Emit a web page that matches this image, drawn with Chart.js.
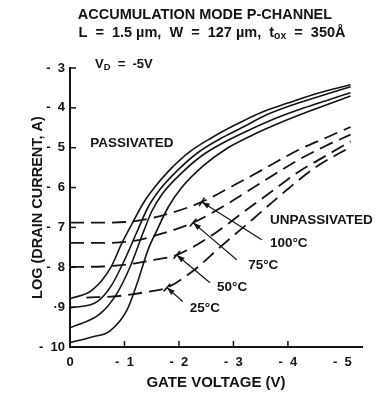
<!DOCTYPE html>
<html>
<head>
<meta charset="utf-8">
<script src="https://cdn.jsdelivr.net/npm/chart.js@4"></script>
<style>
  html, body { margin: 0; background: #fff; }
  #wrap { width: 384px; height: 396px; }
</style>
</head>
<body>
<div id="wrap"><canvas id="chart"></canvas></div>
<script>
/* ─── DATA ─────────────────────────────────────────────── */
const gateTicks = [0, -1, -2, -3, -4, -5]
const logTicks  = [-3, -4, -5, -6, -7, -8, -9, -10]

// passivated (solid), gate voltage V / log drain current
const pas100V = [0, -0.4, -0.75, -0.95, -1.15, -1.35, -1.55, -1.8, -2.2, -2.6, -3.0, -3.5, -4.0, -4.5, -5.15]
const pas100L = [-8.79, -8.58, -8.0, -7.4, -6.88, -6.38, -6.0, -5.6, -5.1, -4.75, -4.45, -4.12, -3.88, -3.65, -3.42]
const pas75V  = [0, -0.5, -0.75, -1.0, -1.22, -1.43, -1.65, -1.95, -2.35, -2.75, -3.15, -3.6, -4.1, -4.6, -5.15]
const pas75L  = [-9.02, -8.86, -8.48, -7.82, -7.14, -6.5, -6.05, -5.6, -5.12, -4.78, -4.5, -4.18, -3.92, -3.7, -3.47]
const pas50V  = [0, -0.55, -0.86, -1.1, -1.34, -1.5, -1.7, -2.0, -2.4, -2.85, -3.3, -3.8, -4.3, -4.7, -5.15]
const pas50L  = [-9.52, -9.17, -8.66, -8.0, -7.14, -6.6, -6.15, -5.7, -5.22, -4.85, -4.55, -4.25, -4.0, -3.82, -3.62]
const pas25V  = [0, -0.4, -0.73, -1.04, -1.25, -1.43, -1.6, -1.8, -2.05, -2.45, -2.9, -3.4, -3.9, -4.4, -5.15]
const pas25L  = [-9.89, -9.75, -9.6, -9.09, -8.33, -7.57, -7.06, -6.5, -6.0, -5.45, -5.0, -4.65, -4.35, -4.08, -3.7]

// unpassivated (dashed)
const unp100V = [0, -0.6, -1.2, -1.8, -2.42, -3.0, -3.6, -4.2, -4.7, -5.15]
const unp100L = [-6.88, -6.88, -6.84, -6.66, -6.36, -5.95, -5.5, -5.05, -4.75, -4.48]
const unp75V  = [0, -0.6, -1.2, -1.7, -2.26, -2.9, -3.6, -4.2, -4.7, -5.15]
const unp75L  = [-7.39, -7.39, -7.33, -7.15, -6.88, -6.4, -5.8, -5.3, -4.95, -4.67]
const unp50V  = [0, -0.6, -1.2, -1.6, -1.96, -2.6, -3.2, -3.7, -4.2, -4.7, -5.15]
const unp50L  = [-7.99, -7.98, -7.9, -7.8, -7.69, -7.2, -6.6, -6.1, -5.6, -5.2, -4.84]
const unp25V  = [-0.3, -0.9, -1.4, -1.78, -2.25, -2.75, -3.35, -3.9, -4.5, -5.15]
const unp25L  = [-8.76, -8.72, -8.62, -8.51, -8.1, -7.5, -6.8, -6.15, -5.5, -4.98]

const tempLabels = ['100°C', '75°C', '50°C', '25°C']

/* ─── LAYOUT / STYLE ───────────────────────────────────── */
const INK  = '#141414'
const FONT = '"Liberation Sans", Arial, sans-serif'

// label anchors, in axis units [V, log I]
const LABEL_AT    = [[-3.67, -7.39], [-3.27, -7.94], [-2.70, -8.49], [-2.20, -9.02]]
const LEADER_FROM = [[-3.52, -7.31], [-3.06, -7.81], [-2.57, -8.39], [-2.07, -8.86]]
const LEADER_TIP  = [[-2.42, -6.36], [-2.26, -6.88], [-1.96, -7.69], [-1.78, -8.51]]

const pts = (xs, ys) => xs.map((v, i) => ({ x: v, y: ys[i] }))

const solid  = (xs, ys) => ({ data: pts(xs, ys), borderColor: INK, borderWidth: 1.6, pointRadius: 0, cubicInterpolationMode: 'monotone' })
const dashed = (xs, ys) => ({ ...solid(xs, ys), borderWidth: 1.8, borderDash: [14, 7] })

/* ─── DECOR PLUGIN ─────────────────────────────────────── */
const line = (ctx, x1, y1, x2, y2) => { ctx.beginPath(); ctx.moveTo(x1, y1); ctx.lineTo(x2, y2); ctx.stroke() }

// text with subscript pieces: parts = [[text, isSub], ...]
const subText = (ctx, parts, x, y, align) => {
  const big = ctx.font
  const small = big.replace(/\d+(\.\d+)?px/, m => (parseFloat(m) * 0.72) + 'px')
  const widths = parts.map(([t, s]) => { ctx.font = s ? small : big; return ctx.measureText(t).width })
  let cx = align === 'center' ? x - widths.reduce((a, b) => a + b, 0) / 2 : x
  ctx.textAlign = 'left'
  parts.forEach(([t, s], i) => {
    ctx.font = s ? small : big
    ctx.fillText(t, cx, s ? y + 3 : y)
    cx += widths[i]
  })
  ctx.font = big
}

const decor = {
  id: 'decor',
  afterDraw(chart) {
    const { ctx, chartArea: ca, scales: { x, y } } = chart
    ctx.save()
    ctx.strokeStyle = INK
    ctx.fillStyle = INK
    ctx.lineWidth = 1.5

    // inward tick marks
    logTicks.forEach(v => line(ctx, ca.left, y.getPixelForValue(v), ca.left + 6, y.getPixelForValue(v)))
    gateTicks.slice(1, 5).forEach(v => line(ctx, x.getPixelForValue(v), ca.bottom, x.getPixelForValue(v), ca.bottom - 6))

    ctx.textBaseline = 'middle'

    // heading
    ctx.font = `bold 14.5px ${FONT}`
    ctx.textAlign = 'center'
    ctx.fillText('ACCUMULATION MODE P-CHANNEL', 205, 15)
    subText(ctx, [['L  =  1.5 µm,  W  =  127 µm,  t', 0], ['ox', 1], ['  =  350Å', 0]], 212, 33, 'center')

    ctx.font = `bold 13px ${FONT}`
    subText(ctx, [['V', 0], ['D', 1], ['  =  -5V', 0]], x.getPixelForValue(-0.46), y.getPixelForValue(-2.92), 'left')

    ctx.font = `bold 13.5px ${FONT}`
    ctx.textAlign = 'left'
    ctx.fillText('PASSIVATED', x.getPixelForValue(-0.37), y.getPixelForValue(-4.88))
    ctx.fillText('UNPASSIVATED', x.getPixelForValue(-3.67), y.getPixelForValue(-6.81))

    tempLabels.forEach((t, i) => {
      ctx.fillText(t, x.getPixelForValue(LABEL_AT[i][0]), y.getPixelForValue(LABEL_AT[i][1]))

      const x1 = x.getPixelForValue(LEADER_FROM[i][0]), y1 = y.getPixelForValue(LEADER_FROM[i][1])
      const x2 = x.getPixelForValue(LEADER_TIP[i][0]),  y2 = y.getPixelForValue(LEADER_TIP[i][1])
      ctx.lineWidth = 1.2
      line(ctx, x1, y1, x2, y2)
      const a = Math.atan2(y2 - y1, x2 - x1)
      // bar across the tip
      ctx.lineWidth = 1.6
      line(ctx, x2 + 5 * Math.sin(a), y2 - 5 * Math.cos(a), x2 - 5 * Math.sin(a), y2 + 5 * Math.cos(a))
      // arrow head
      ctx.beginPath()
      ctx.moveTo(x2, y2)
      ctx.lineTo(x2 - 8 * Math.cos(a) + 2.8 * Math.sin(a), y2 - 8 * Math.sin(a) - 2.8 * Math.cos(a))
      ctx.lineTo(x2 - 8 * Math.cos(a) - 2.8 * Math.sin(a), y2 - 8 * Math.sin(a) + 2.8 * Math.cos(a))
      ctx.closePath()
      ctx.fill()
    })
    ctx.restore()
  }
}

/* ─── CHART ────────────────────────────────────────────── */
new Chart(document.getElementById('chart'), {
  type: 'line',
  data: {
    datasets: [
      solid(pas100V, pas100L), solid(pas75V, pas75L), solid(pas50V, pas50L), solid(pas25V, pas25L),
      dashed(unp100V, unp100L), dashed(unp75V, unp75L), dashed(unp50V, unp50L), dashed(unp25V, unp25L),
    ],
  },
  options: {
    responsive: true,
    maintainAspectRatio: false,
    animation: false,
    layout: { padding: { left: 0, right: 22, top: 68, bottom: 0 } },
    plugins: { legend: { display: false }, tooltip: { enabled: false } },
    scales: {
      x: {
        type: 'linear', reverse: true, min: -5.36, max: 0,
        afterBuildTicks: s => { s.ticks = gateTicks.map(v => ({ value: v })) },
        afterFit: s => { s.height = 49 },
        grid: { display: false, drawTicks: false },
        border: { display: true, color: INK, width: 2 },
        ticks: {
          color: INK, padding: 8, maxRotation: 0,
          font: { family: FONT, size: 13, weight: 'bold' },
          callback: v => v === 0 ? '0' : '-  ' + Math.abs(v),
        },
        title: {
          display: true, text: 'GATE VOLTAGE (V)', color: INK,
          font: { family: FONT, size: 15, weight: 'bold' }, padding: { top: 0, bottom: 4 },
        },
      },
      y: {
        type: 'linear', min: -10, max: -3,
        afterBuildTicks: s => { s.ticks = logTicks.map(v => ({ value: v })) },
        afterFit: s => { s.width = 70 },
        grid: { display: false, drawTicks: false },
        border: { display: true, color: INK, width: 2 },
        ticks: {
          color: INK, padding: 5,
          font: { family: FONT, size: 13, weight: 'bold' },
          callback: v => v === -9 ? '·9' : '-  ' + Math.abs(v),
        },
        title: {
          display: true, text: 'LOG (DRAIN CURRENT, A)', color: INK,
          font: { family: FONT, size: 14.5, weight: 'bold' }, padding: { top: 29, bottom: 0 },
        },
      },
    },
  },
  plugins: [decor],
})
</script>
</body>
</html>
